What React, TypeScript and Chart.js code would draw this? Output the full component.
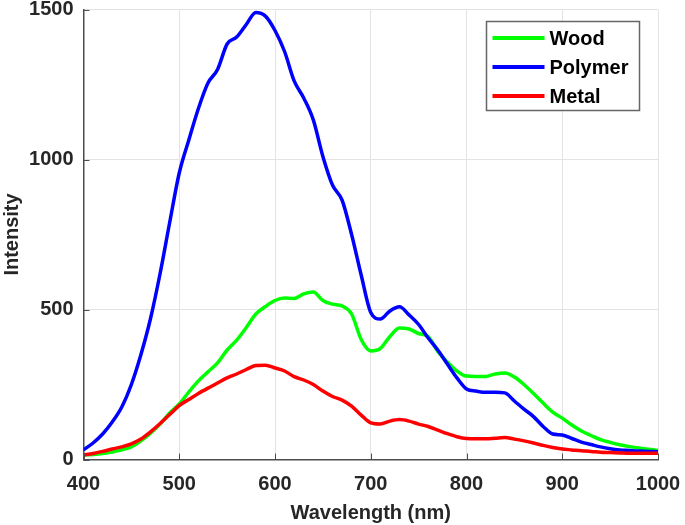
import React, { useEffect, useRef } from "react";
import { Chart, registerables } from "chart.js";

Chart.register(...registerables);

const wavelengths = [
  400, 410, 420, 430, 440, 450, 460, 470, 480, 490,
  500, 510, 520, 530, 540, 550, 560, 570, 580, 590,
  600, 610, 620, 630, 640, 650, 660, 670, 680, 690,
  700, 710, 720, 730, 740, 750, 760, 770, 780, 790,
  800, 810, 820, 830, 840, 850, 860, 870, 880, 890,
  900, 910, 920, 930, 940, 950, 960, 970, 980, 990, 1000,
];

const woodValues = [
  15, 17, 20, 25, 32, 42, 62, 88, 118, 155,
  185, 225, 262, 292, 322, 365, 398, 440, 485, 510,
  530, 538, 537, 552, 558, 530, 518, 512, 485, 400,
  362, 370, 410, 438, 435, 420, 410, 360, 325, 295,
  278, 277, 277, 285, 288, 275, 250, 220, 188, 158,
  138, 115, 95, 80, 66, 57, 49, 43, 38, 34, 31,
];

const polymerValues = [
  32, 55, 85, 125, 175, 250, 350, 470, 620, 790,
  955, 1065, 1170, 1255, 1300, 1385, 1408, 1450, 1490, 1478,
  1430, 1360, 1262, 1205, 1132, 1010, 915, 865, 750, 615,
  490, 468, 495, 509, 482, 450, 405, 365, 318, 272,
  235, 228, 224, 224, 222, 195, 168, 143, 110, 85,
  82, 70, 58, 50, 42, 36, 32, 30, 28, 27, 26,
];

const metalValues = [
  15, 20, 27, 35, 42, 52, 68, 92, 120, 150,
  180, 200, 220, 238, 255, 272, 285, 300, 313, 314,
  305, 295, 276, 265, 250, 228, 210, 198, 178, 148,
  122, 118, 128, 133, 128, 118, 110, 98, 86, 76,
  70, 69, 69, 71, 73, 68, 62, 55, 47, 40,
  35, 32, 29, 27, 24, 23, 22, 21, 21, 21, 21,
];

const seriesLabels = ["Wood", "Polymer", "Metal"];
const seriesColors = ["#00ff00", "#0000ff", "#ff0000"];
const xTickValues = [400, 500, 600, 700, 800, 900, 1000];
const yTickValues = [0, 500, 1000, 1500];
const xTitle = "Wavelength (nm)";
const yTitle = "Intensity";

const FONT = "'Liberation Sans', Arial, sans-serif";
const TEXT_COLOR = "#262626";
const AXIS_COLOR = "#4d4d4d";

const inwardTicks = {
  id: "inwardTicks",
  afterDatasetsDraw(chart: any) {
    const { ctx, chartArea, scales } = chart;
    ctx.save();
    ctx.strokeStyle = AXIS_COLOR;
    ctx.lineWidth = 1;
    ctx.beginPath();
    xTickValues.forEach((v) => {
      const px = Math.round(scales.x.getPixelForValue(v)) + 0.5;
      ctx.moveTo(px, chartArea.bottom);
      ctx.lineTo(px, chartArea.bottom - 6);
    });
    yTickValues.forEach((v) => {
      const py = Math.round(scales.y.getPixelForValue(v)) + 0.5;
      ctx.moveTo(chartArea.left, py);
      ctx.lineTo(chartArea.left + 6, py);
    });
    ctx.stroke();
    ctx.restore();
  },
};

const boxLegend = {
  id: "boxLegend",
  afterDraw(chart: any) {
    const { ctx, chartArea } = chart;
    const boxRight = chartArea.right - 18.5;
    const boxLeft = boxRight - 153;
    const boxTop = chartArea.top + 12;
    const boxH = 89;
    ctx.save();
    ctx.fillStyle = "#ffffff";
    ctx.fillRect(boxLeft, boxTop, boxRight - boxLeft, boxH);
    ctx.strokeStyle = "#666666";
    ctx.lineWidth = 1.5;
    ctx.strokeRect(boxLeft, boxTop, boxRight - boxLeft, boxH);
    ctx.font = `bold 20px ${FONT}`;
    ctx.textBaseline = "middle";
    ctx.textAlign = "left";
    chart.data.datasets.forEach((ds: any, i: number) => {
      const y = boxTop + 16.5 + i * 29;
      ctx.strokeStyle = ds.borderColor;
      ctx.lineWidth = 4;
      ctx.beginPath();
      ctx.moveTo(boxLeft + 6, y);
      ctx.lineTo(boxLeft + 58, y);
      ctx.stroke();
      ctx.fillStyle = "#000000";
      ctx.fillText(ds.label, boxLeft + 63, y + 1);
    });
    ctx.restore();
  },
};

export default function App() {
  const canvasRef = useRef<HTMLCanvasElement | null>(null);

  useEffect(() => {
    const canvas = canvasRef.current;
    if (!canvas) return;
    const seriesValues = [woodValues, polymerValues, metalValues];
    const chart = new Chart(canvas, {
      type: "line",
      data: {
        datasets: seriesLabels.map((label, i) => ({
          label,
          data: wavelengths.map((w, j) => ({ x: w, y: seriesValues[i][j] })),
          borderColor: seriesColors[i],
          backgroundColor: seriesColors[i],
          borderWidth: 3.5,
          pointRadius: 0,
          tension: 0.4,
          cubicInterpolationMode: "monotone" as const,
          fill: false,
          order: 3 - i,
        })),
      },
      options: {
        animation: false,
        responsive: false,
        maintainAspectRatio: false,
        layout: { padding: { left: 0, top: 9.5, right: 27, bottom: 0 } },
        plugins: {
          legend: { display: false },
          tooltip: { enabled: false },
        },
        scales: {
          x: {
            type: "linear",
            min: 400,
            max: 1000,
            afterBuildTicks: (scale: any) => {
              scale.ticks = xTickValues.map((v) => ({ value: v }));
            },
            afterFit: (scale: any) => {
              scale.height = 65.5;
              scale.paddingLeft = 0;
              scale.paddingRight = 0;
            },
            grid: {
              color: "#e3e3e3",
              lineWidth: 1,
              drawTicks: false,
            },
            border: { display: true, color: AXIS_COLOR, width: 1.5 },
            ticks: {
              color: TEXT_COLOR,
              font: { family: FONT, size: 20, weight: "bold" },
              padding: 13,
              maxRotation: 0,
              autoSkip: false,
              callback: (v: any) => String(v),
            },
            title: {
              display: true,
              text: xTitle,
              color: TEXT_COLOR,
              font: { family: FONT, size: 20, weight: "bold" },
              padding: { top: 0, bottom: 0 },
            },
          },
          y: {
            type: "linear",
            min: 0,
            max: 1500,
            afterBuildTicks: (scale: any) => {
              scale.ticks = yTickValues.map((v) => ({ value: v }));
            },
            afterFit: (scale: any) => {
              scale.width = 83.5;
              scale.paddingTop = 0;
              scale.paddingBottom = 0;
            },
            grid: {
              color: "#e3e3e3",
              lineWidth: 1,
              drawTicks: false,
            },
            border: { display: true, color: AXIS_COLOR, width: 1.5 },
            ticks: {
              color: TEXT_COLOR,
              font: { family: FONT, size: 20, weight: "bold" },
              padding: 10,
              autoSkip: false,
              callback: (v: any) => String(v),
            },
            title: {
              display: true,
              text: yTitle,
              color: TEXT_COLOR,
              font: { family: FONT, size: 20, weight: "bold" },
              padding: { top: 0, bottom: 0 },
            },
          },
        },
      },
      plugins: [inwardTicks, boxLegend],
    });
    return () => chart.destroy();
  }, []);

  return (
    <div style={{ position: "absolute", left: 0, top: 0, width: 685, height: 525, background: "#ffffff" }}>
      <canvas ref={canvasRef} width={685} height={525} style={{ width: 685, height: 525, display: "block" }} />
    </div>
  );
}
